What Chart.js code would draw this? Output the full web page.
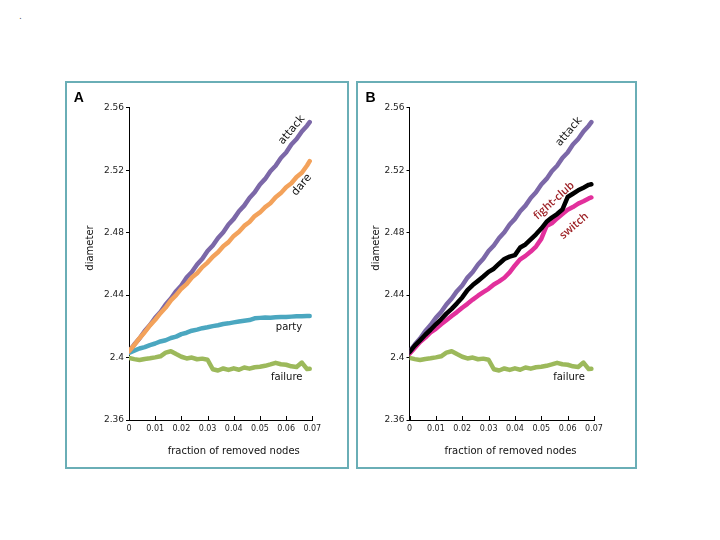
<!DOCTYPE html>
<html>
<head>
<meta charset="utf-8">
<script src="https://cdn.jsdelivr.net/npm/chart.js@4.4.0/dist/chart.umd.min.js"></script>
<style>
  html, body { margin: 0; padding: 0; background: #fff; }
  body { width: 720px; height: 540px; position: relative; overflow: hidden; font-family: "DejaVu Sans", sans-serif; }
  .box { position: absolute; border: 2px solid #6aaeb6; box-sizing: border-box; }
  #boxA { left: 65px; top: 81px; width: 284px; height: 388px; }
  #boxB { left: 356px; top: 81px; width: 281px; height: 388px; }
  canvas { position: absolute; }
  #chartA { left: 66px; top: 82px; }
  #chartB { left: 357px; top: 82px; }
  .dot { position: absolute; left: 19px; top: 11px; font-size: 9px; color: #555; }
</style>
</head>
<body>
<span class="dot">.</span>
<div class="box" id="boxA"></div>
<div class="box" id="boxB"></div>
<canvas id="chartA" width="282" height="386"></canvas>
<canvas id="chartB" width="279" height="386"></canvas>
<script>
// ------- Data -------
const xs = [0, 0.002, 0.004, 0.006, 0.008, 0.010,
            0.012, 0.014, 0.016, 0.018, 0.020, 0.022,
            0.024, 0.026, 0.028, 0.030, 0.032, 0.034,
            0.036, 0.038, 0.040, 0.042, 0.044, 0.046,
            0.048, 0.050, 0.052, 0.054, 0.056, 0.058,
            0.060, 0.062, 0.064, 0.066, 0.068, 0.069];

const attack = [2.4040, 2.4083, 2.4122, 2.4170, 2.4208, 2.4255,
                2.4292, 2.4340, 2.4378, 2.4425, 2.4462, 2.4512,
                2.4548, 2.4596, 2.4633, 2.4682, 2.4718, 2.4766,
                2.4803, 2.4852, 2.4888, 2.4937, 2.4973, 2.5022,
                2.5058, 2.5108, 2.5144, 2.5193, 2.5228, 2.5278,
                2.5313, 2.5364, 2.5400, 2.5448, 2.5485, 2.5508];

const dare = [2.4040, 2.4080, 2.4124, 2.4162, 2.4206, 2.4242,
              2.4284, 2.4320, 2.4366, 2.4400, 2.4441, 2.4470,
              2.4512, 2.4540, 2.4579, 2.4608, 2.4646, 2.4674,
              2.4713, 2.4739, 2.4779, 2.4806, 2.4843, 2.4868,
              2.4906, 2.4929, 2.4963, 2.4988, 2.5026, 2.5053,
              2.5091, 2.5116, 2.5156, 2.5183, 2.5230, 2.5258];

const party = [2.4030, 2.4044, 2.4058, 2.4067, 2.4080, 2.4090,
               2.4103, 2.4111, 2.4125, 2.4134, 2.4150, 2.4159,
               2.4172, 2.4179, 2.4188, 2.4194, 2.4201, 2.4207,
               2.4215, 2.4219, 2.4225, 2.4231, 2.4236, 2.4240,
               2.4251, 2.4254, 2.4256, 2.4255, 2.4258, 2.4260,
               2.4259, 2.4262, 2.4264, 2.4265, 2.4266, 2.4266];

const failure = [2.3998, 2.3990, 2.3984, 2.3991, 2.3995, 2.4001,
                 2.4008, 2.4031, 2.4040, 2.4022, 2.4005, 2.3994,
                 2.4000, 2.3989, 2.3993, 2.3986, 2.3925, 2.3917,
                 2.3930, 2.3921, 2.3931, 2.3922, 2.3936, 2.3929,
                 2.3938, 2.3941, 2.3947, 2.3956, 2.3966, 2.3957,
                 2.3954, 2.3944, 2.3940, 2.3968, 2.3926, 2.3928];

const fightClub = [2.4035, 2.4076, 2.4110, 2.4146, 2.4178, 2.4213,
                   2.4245, 2.4281, 2.4312, 2.4347, 2.4385, 2.4432,
                   2.4464, 2.4491, 2.4519, 2.4549, 2.4569, 2.4601,
                   2.4631, 2.4646, 2.4656, 2.4705, 2.4724, 2.4756,
                   2.4789, 2.4826, 2.4869, 2.4896, 2.4919, 2.4948,
                   2.5028, 2.5049, 2.5071, 2.5088, 2.5106, 2.5110];

const switchSeries = [2.4025, 2.4062, 2.4100, 2.4128, 2.4161, 2.4184,
                      2.4213, 2.4239, 2.4266, 2.4291, 2.4319, 2.4344,
                      2.4371, 2.4396, 2.4419, 2.4440, 2.4468, 2.4488,
                      2.4511, 2.4545, 2.4590, 2.4629, 2.4651, 2.4679,
                      2.4711, 2.4760, 2.4843, 2.4860, 2.4891, 2.4919,
                      2.4946, 2.4964, 2.4986, 2.5001, 2.5019, 2.5025];

const xTicks = [0, 0.01, 0.02, 0.03, 0.04, 0.05, 0.06, 0.07];
const xTickLabels = ["0", "0.01", "0.02", "0.03", "0.04", "0.05", "0.06", "0.07"];
const yTicks = [2.36, 2.40, 2.44, 2.48, 2.52, 2.56];
const yTickLabels = ["2.36", "2.4", "2.44", "2.48", "2.52", "2.56"];

// ------- Text drawn on top (series names, axis titles, panel letters) -------
const panelText = {
  id: "panelText",
  afterDraw(chart, args, opts) {
    const ctx = chart.ctx;
    const area = chart.chartArea;
    const sx = chart.scales.x;
    ctx.save();
    // x ticks point up into the plot
    ctx.strokeStyle = "#000";
    ctx.lineWidth = 1;
    xTicks.forEach((v) => {
      const px = Math.round(sx.getPixelForValue(v)) + 0.5;
      ctx.beginPath();
      ctx.moveTo(px, area.bottom);
      ctx.lineTo(px, area.bottom - 4);
      ctx.stroke();
    });
    opts.items.forEach((t) => {
      ctx.save();
      ctx.translate(t.x, t.y);
      ctx.rotate((t.rot || 0) * Math.PI / 180);
      ctx.font = t.font;
      ctx.fillStyle = t.color || "#111";
      ctx.textAlign = "center";
      ctx.textBaseline = "middle";
      ctx.fillText(t.text, 0, 0);
      ctx.restore();
    });
    ctx.restore();
  },
};

function makeChart(id, series, pad, items) {
  return new Chart(document.getElementById(id), {
    type: "line",
    data: {
      datasets: series.map((s) => ({
        label: s.label,
        data: xs.map((x, i) => ({ x: x, y: s.values[i] })),
        borderColor: s.color,
        borderWidth: 4.5,
        pointRadius: 0,
        tension: 0,
        fill: false,
        borderJoinStyle: "round",
        borderCapStyle: "round",
        order: s.order,
      })),
    },
    options: {
      responsive: false,
      animation: false,
      devicePixelRatio: 1,
      layout: { padding: pad },
      plugins: {
        legend: { display: false },
        tooltip: { enabled: false },
        panelText: { items: items },
      },
      scales: {
        x: {
          type: "linear",
          min: 0,
          max: 0.07,
          afterFit: (s) => { s.height = 20; },
          afterBuildTicks: (s) => { s.ticks = xTicks.map((v) => ({ value: v })); },
          grid: { display: false, drawTicks: false },
          border: { display: true, color: "#000", width: 1 },
          ticks: {
            autoSkip: false,
            maxRotation: 0,
            padding: 4,
            color: "#222",
            font: { family: "DejaVu Sans", size: 8 },
            callback: (v, i) => xTickLabels[i],
          },
        },
        y: {
          type: "linear",
          min: 2.36,
          max: 2.56,
          afterFit: (s) => { s.width = 30; },
          afterBuildTicks: (s) => { s.ticks = yTicks.map((v) => ({ value: v })); },
          grid: { drawOnChartArea: false, drawTicks: true, tickLength: 3, color: "#000" },
          border: { display: true, color: "#000", width: 1 },
          ticks: {
            padding: 2,
            color: "#222",
            font: { family: "DejaVu Sans", size: 9 },
            callback: (v, i) => yTickLabels[i],
          },
        },
      },
    },
    plugins: [panelText],
  });
}

const sansLabel = "10px 'DejaVu Sans'";
const redLabel = "600 11px 'Open Sans'";

window.addEventListener("DOMContentLoaded", () => {
  makeChart("chartA", [
    { label: "dare", values: dare, color: "#f3a25b", order: 1 },
    { label: "attack", values: attack, color: "#7c68a8", order: 2 },
    { label: "party", values: party, color: "#4ba7c0", order: 3 },
    { label: "failure", values: failure, color: "#9cb95b", order: 4 },
  ], { left: 33, right: 35.7, top: 25.7, bottom: 28 }, [
    { text: "A", x: 12.7, y: 16, font: "bold 14px 'Liberation Sans'", color: "#000" },
    { text: "diameter", x: 24.7, y: 166, rot: -90, font: sansLabel },
    { text: "fraction of removed nodes", x: 167.7, y: 369.7, font: sansLabel },
    { text: "attack", x: 225.7, y: 48, rot: -50, font: "11px 'DejaVu Sans'" },
    { text: "dare", x: 235.7, y: 103, rot: -50, font: "11px 'DejaVu Sans'" },
    { text: "party", x: 223, y: 245, font: sansLabel },
    { text: "failure", x: 220.7, y: 295.3, font: sansLabel },
  ]);

  makeChart("chartB", [
    { label: "fight-club", values: fightClub, color: "#000000", order: 1 },
    { label: "attack", values: attack, color: "#7c68a8", order: 2 },
    { label: "switch", values: switchSeries, color: "#e2309c", order: 3 },
    { label: "failure", values: failure, color: "#9cb95b", order: 4 },
  ], { left: 22.5, right: 42, top: 25.7, bottom: 28 }, [
    { text: "B", x: 13.5, y: 16.3, font: "bold 14px 'Liberation Sans'", color: "#000" },
    { text: "diameter", x: 19.7, y: 166, rot: -90, font: sansLabel },
    { text: "fraction of removed nodes", x: 153.5, y: 369.7, font: sansLabel },
    { text: "attack", x: 212, y: 49.7, rot: -50, font: "11px 'DejaVu Sans'" },
    { text: "fight-club", x: 197, y: 118.7, rot: -42, font: redLabel, color: "#9e2328" },
    { text: "switch", x: 217, y: 144, rot: -41, font: redLabel, color: "#9e2328" },
    { text: "failure", x: 212, y: 295.3, font: sansLabel },
  ]);
});
</script>
</body>
</html>
